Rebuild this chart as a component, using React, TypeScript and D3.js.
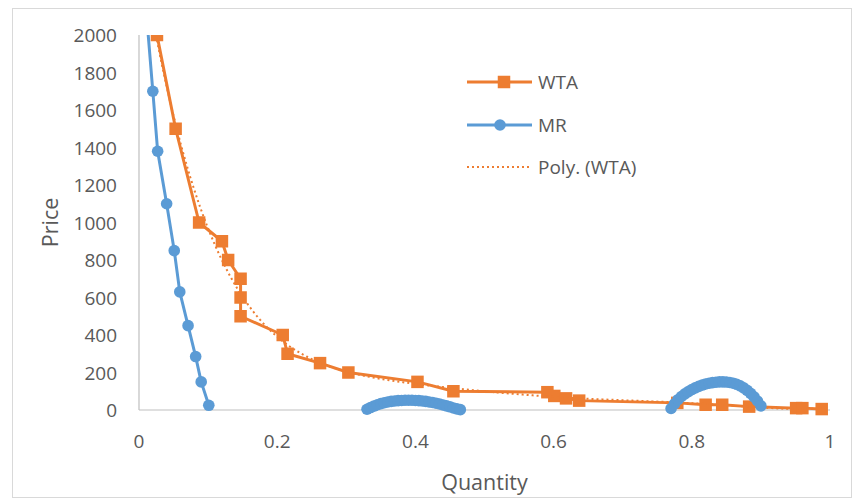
import React from "react";
import * as d3 from "d3";

// ---------- data ----------
const wtaX = [0.026, 0.053, 0.087, 0.12, 0.129, 0.147, 0.147, 0.147, 0.208, 0.215, 0.262, 0.303, 0.403, 0.455, 0.591, 0.601, 0.618, 0.637, 0.779, 0.82, 0.844, 0.883, 0.951, 0.96, 0.988];
const wtaY = [2000, 1500, 1000, 900, 800, 700, 600, 500, 400, 300, 250, 200, 150, 100, 95, 75, 62, 50, 38, 28, 28, 18, 10, 10, 5];

const mrSeg1X = [0.012, 0.02, 0.027, 0.04, 0.051, 0.059, 0.071, 0.082, 0.09, 0.101];
const mrSeg1Y = [2060, 1700, 1380, 1100, 850, 630, 450, 285, 150, 25];

const mrSeg2X = [0.33, 0.335, 0.34, 0.345, 0.35, 0.355, 0.36, 0.365, 0.37, 0.375, 0.38, 0.385, 0.39, 0.395, 0.4, 0.405, 0.41, 0.415, 0.42, 0.425, 0.43, 0.435, 0.44, 0.445, 0.45, 0.455, 0.46, 0.465];
const mrSeg2Y = [4, 13, 21, 28, 34, 39, 43, 46, 48, 50, 51, 52, 52, 52, 51, 50, 48, 46, 43, 40, 36, 32, 27, 22, 17, 11, 6, 2];

const mrSeg3X = [0.77, 0.775, 0.78, 0.785, 0.79, 0.795, 0.8, 0.805, 0.81, 0.815, 0.82, 0.825, 0.83, 0.835, 0.84, 0.845, 0.85, 0.855, 0.86, 0.865, 0.87, 0.875, 0.88, 0.885, 0.89, 0.895, 0.9];
const mrSeg3Y = [8, 33, 55, 72, 86, 98, 109, 118, 126, 133, 139, 143, 146, 148, 150, 150, 149, 147, 143, 137, 129, 118, 105, 89, 70, 48, 22];

const xTicks = [0, 0.2, 0.4, 0.6, 0.8, 1];
const yTicks = [0, 200, 400, 600, 800, 1000, 1200, 1400, 1600, 1800, 2000];
const legendLabels = ["WTA", "MR", "Poly. (WTA)"];

const ORANGE = "#ED7D31";
const BLUE = "#5B9BD5";
const TEXT = "#595959";
const AXIS = "#BFBFBF";
const FONT = "'Open Sans', 'Noto Sans', sans-serif";

// least-squares polynomial (trendline) fit of the WTA series
function polyFit(xs: number[], ys: number[], deg: number): number[] {
  const n = deg + 1;
  const A: number[][] = Array.from({ length: n }, () => new Array(n + 1).fill(0));
  for (let k = 0; k < xs.length; k++) {
    const pw: number[] = [];
    let p = 1;
    for (let i = 0; i < 2 * n; i++) { pw.push(p); p *= xs[k]; }
    for (let i = 0; i < n; i++) {
      for (let j = 0; j < n; j++) A[i][j] += pw[i + j];
      A[i][n] += pw[i] * ys[k];
    }
  }
  for (let c = 0; c < n; c++) {
    let piv = c;
    for (let r = c + 1; r < n; r++) if (Math.abs(A[r][c]) > Math.abs(A[piv][c])) piv = r;
    [A[c], A[piv]] = [A[piv], A[c]];
    for (let r = 0; r < n; r++) {
      if (r === c) continue;
      const f = A[r][c] / A[c][c];
      for (let j = c; j <= n; j++) A[r][j] -= f * A[c][j];
    }
  }
  return A.map((row, i) => row[n] / row[i]);
}

export default function App() {
  const W = 854, H = 500;
  const x = d3.scaleLinear().domain([0, 1]).range([139, 830]);
  const y = d3.scaleLinear().domain([0, 2000]).range([410, 35]);

  const wta = wtaX.map((v, i) => [v, wtaY[i]] as [number, number]);
  const segs = [
    mrSeg1X.map((v, i) => [v, mrSeg1Y[i]] as [number, number]),
    mrSeg2X.map((v, i) => [v, mrSeg2Y[i]] as [number, number]),
    mrSeg3X.map((v, i) => [v, mrSeg3Y[i]] as [number, number]),
  ];

  const line = d3.line<[number, number]>().x(d => x(d[0])).y(d => y(d[1]));

  const coef = polyFit(wtaX, wtaY, 6);
  const x0 = d3.min(wtaX)!, x1 = d3.max(wtaX)!;
  const trend: [number, number][] = d3.range(0, 201).map(i => {
    const xv = x0 + (x1 - x0) * i / 200;
    let yv = 0;
    for (let k = coef.length - 1; k >= 0; k--) yv = yv * xv + coef[k];
    return [xv, yv];
  });

  const sq = 12.5;
  const cr = 5.8;

  return (
    <svg width={W} height={H} style={{ position: "absolute", left: 0, top: 0, background: "#fff" }}>
      <defs>
        <clipPath id="plotClip">
          <rect x={x(0) - 10} y={y(2000)} width={x(1) - x(0) + 20} height={y(0) - y(2000) + 20} />
        </clipPath>
      </defs>
      <rect x={12.5} y={8.5} width={839} height={489} fill="#fff" stroke="#D9D9D9" />

      {/* axes */}
      <line x1={x(0)} x2={x(0)} y1={y(2000)} y2={y(0)} stroke={AXIS} strokeWidth={1.2} />
      <line x1={x(0)} x2={x(1)} y1={y(0)} y2={y(0)} stroke={AXIS} strokeWidth={1.2} />

      {yTicks.map(t => (
        <text key={"y" + t} x={117} y={y(t)} textAnchor="end" dominantBaseline="central"
          fontFamily={FONT} fontSize={19} fill={TEXT}>{t}</text>
      ))}
      {xTicks.map(t => (
        <text key={"x" + t} x={x(t)} y={441} textAnchor="middle" dominantBaseline="central"
          fontFamily={FONT} fontSize={19} fill={TEXT}>{d3.format("~g")(t)}</text>
      ))}
      <text x={(x(0) + x(1)) / 2} y={481} textAnchor="middle" dominantBaseline="central"
        fontFamily={FONT} fontSize={21.5} fill={TEXT}>Quantity</text>
      <text transform={`translate(49, ${(y(0) + y(2000)) / 2}) rotate(-90)`} textAnchor="middle"
        dominantBaseline="central" fontFamily={FONT} fontSize={21.5} fill={TEXT}>Price</text>

      <g clipPath="url(#plotClip)">
        {/* WTA line + markers */}
        <path d={line(wta)!} fill="none" stroke={ORANGE} strokeWidth={3} strokeLinejoin="round" />
        {wta.map((d, i) => (
          <rect key={"w" + i} x={x(d[0]) - sq / 2} y={y(d[1]) - sq / 2} width={sq} height={sq} fill={ORANGE} />
        ))}
        {/* trendline */}
        <path d={line(trend)!} fill="none" stroke={ORANGE} strokeWidth={2} strokeDasharray="2,3" />
        {/* MR */}
        {segs.map((s, k) => (
          <path key={"m" + k} d={line(s)!} fill="none" stroke={BLUE} strokeWidth={3} strokeLinejoin="round" />
        ))}
        {segs.flat().filter(d => d[1] <= 2000).map((d, i) => (
          <circle key={"c" + i} cx={x(d[0])} cy={y(d[1])} r={cr} fill={BLUE} />
        ))}
      </g>

      {/* legend */}
      <g fontFamily={FONT} fontSize={19} fill={TEXT}>
        <line x1={467} x2={532} y1={82} y2={82} stroke={ORANGE} strokeWidth={3} />
        <rect x={504 - sq / 2} y={82 - sq / 2} width={sq} height={sq} fill={ORANGE} />
        <text x={538} y={82} dominantBaseline="central">{legendLabels[0]}</text>
        <line x1={467} x2={532} y1={125} y2={125} stroke={BLUE} strokeWidth={3} />
        <circle cx={500} cy={125} r={cr} fill={BLUE} />
        <text x={538} y={125} dominantBaseline="central">{legendLabels[1]}</text>
        <line x1={467} x2={532} y1={167} y2={167} stroke={ORANGE} strokeWidth={2} strokeDasharray="2,3" />
        <text x={538} y={167} dominantBaseline="central">{legendLabels[2]}</text>
      </g>
    </svg>
  );
}
